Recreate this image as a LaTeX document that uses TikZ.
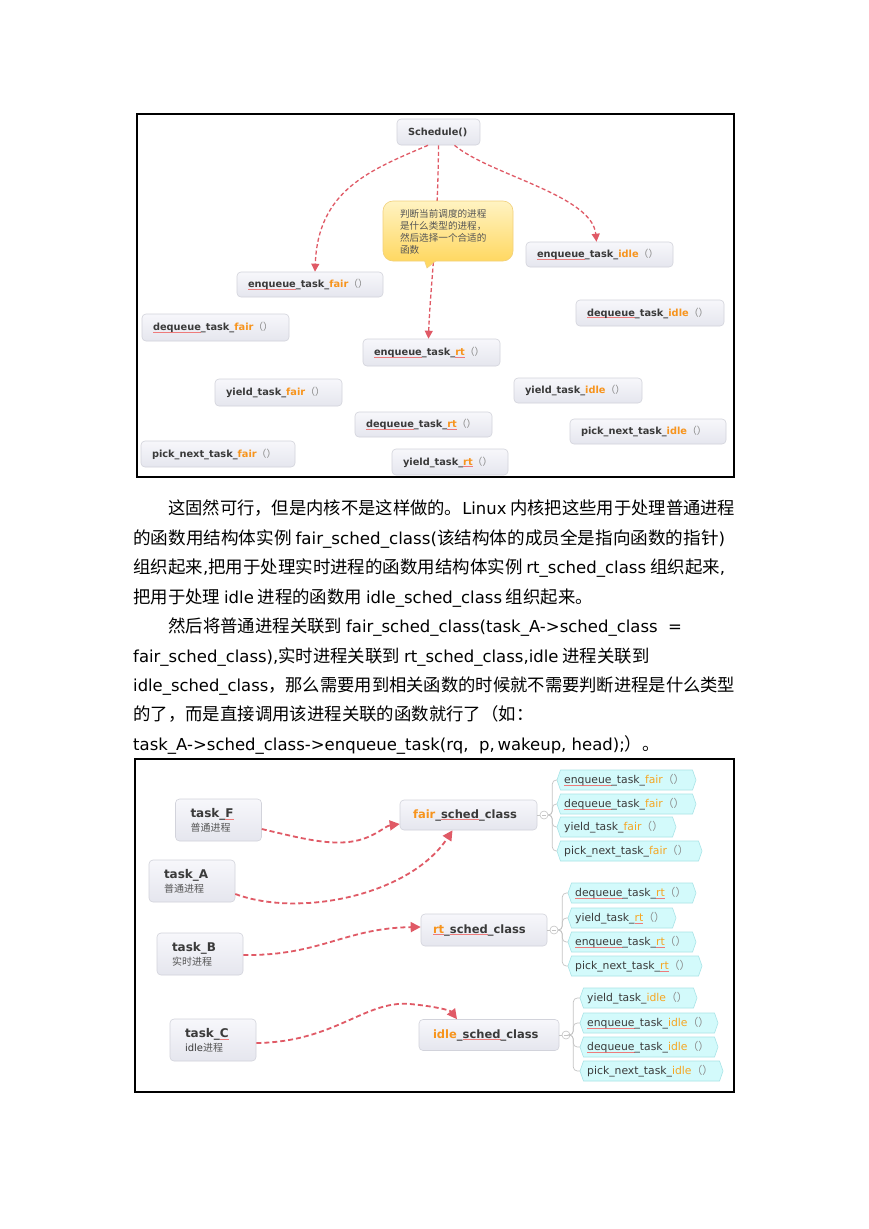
\documentclass[tikz,border=0pt]{standalone}
\usepackage{fontspec}
\usepackage{graphicx}
\usetikzlibrary{arrows.meta}
\newfontfamily\cjk{Noto Sans CJK SC}
\newfontfamily\dvs{DejaVu Sans}
\definecolor{txt}{HTML}{3A3A3A}
\definecolor{sub}{HTML}{555555}
\definecolor{org}{HTML}{F7941D}
\definecolor{orgl}{HTML}{F5A623}
\definecolor{paren}{HTML}{8A8A8A}
\definecolor{arr}{HTML}{E05A66}
\definecolor{boxtop}{HTML}{F7F7FB}
\definecolor{boxbot}{HTML}{E5E6EE}
\definecolor{boxline}{HTML}{D2D3DB}
\definecolor{bubtop}{HTML}{FFF3C2}
\definecolor{bubbot}{HTML}{FFD862}
\definecolor{bubline}{HTML}{F1D07A}
\definecolor{kidfill}{HTML}{D3FAFB}
\definecolor{kidline}{HTML}{A9E4E7}
\definecolor{branch}{HTML}{C4C4C4}
\definecolor{squig}{HTML}{EE7B7B}
\newcommand\hl[1]{\textcolor{org}{#1}}
\newcommand\hk[1]{\textcolor{orgl}{#1}}
\newcommand\pp{{\cjk\mdseries\textcolor{paren}{（）}}}
\newcommand\redul[1]{\setbox0\hbox{#1}\rlap{\textcolor{squig}{\rule[-2pt]{\wd0}{0.55pt}}}\box0}
\newcommand\lat[1]{{\dvs\fontsize{16.5}{20}\selectfont #1}}
\newcommand\kid[5]{%
  \filldraw[kidshape] (#2,#4) -- ({#2+3.5},{#4-10}) -- ({#3-3.5},{#4-10}) -- (#3,#4) -- ({#3-3.5},{#4+10}) -- ({#2+3.5},{#4+10}) -- cycle;
  \node[kidtxt] (#1) at (#2,#4) {#5};}
\begin{document}
\begin{tikzpicture}[x=1pt,y=-1pt,
  gbox/.style={draw=boxline, line width=0.6pt, rounded corners=4pt, top color=boxtop, bottom color=boxbot,
    inner xsep=11pt, inner ysep=0pt, align=left, text=txt, font=\dvs\bfseries\fontsize{9.8}{12}\selectfont},
  tbox/.style={gbox, inner xsep=15pt, text width=56pt, minimum height=42pt, font=\dvs\fontsize{10}{14}\selectfont},
  cbox/.style={gbox, font=\dvs\bfseries\fontsize{11.5}{13}\selectfont},
  kidshape/.style={fill=kidfill, draw=kidline, line width=0.6pt},
  kidtxt/.style={anchor=west, inner xsep=7pt, inner ysep=0pt, text=txt, font=\dvs\fontsize{10.8}{12}\selectfont},
  circ/.style={circle, draw=branch, fill=white, minimum size=8pt, inner sep=0pt, line width=0.6pt},
  branchl/.style={draw=branch, line width=0.7pt},
  arrT/.style={draw=arr, line width=1.3pt, dash pattern=on 4pt off 2.5pt, -{Triangle[length=8pt,width=8pt]}},
  arrB/.style={draw=arr, line width=1.8pt, dash pattern=on 5pt off 3pt, -{Triangle[length=10pt,width=10pt]}},
  ptext/.style={anchor=base west, inner sep=0pt, text=black, font=\cjk\fontsize{17.4}{20}\selectfont},
  frame/.style={draw=black, line width=1.3pt}
]
\useasboundingbox (0,0) rectangle (869,1229);
\fill[white] (0,0) rectangle (869,1229);

% ---------- top diagram ----------
\draw[frame] (137,114) rectangle (734,477);
\node[gbox, text width=61pt, minimum height=26pt] (sch) at (438.5,132) {Schedule()};
\node[gbox, text width=124pt, minimum height=25pt] (eqf) at (310,284.5) {\redul{enqueue}\_task\_\hl{fair}\pp};
\node[gbox, text width=125pt, minimum height=25pt] (eqi) at (599.5,254.5) {\redul{enqueue}\_task\_\hl{idle}\pp};
\node[gbox, text width=125pt, minimum height=27pt] (dqf) at (215.5,327.5) {\redul{dequeue}\_task\_\hl{fair}\pp};
\node[gbox, text width=115pt, minimum height=27pt] (eqr) at (431.5,352.5) {\redul{enqueue}\_task\_\redul{\hl{rt}}\pp};
\node[gbox, text width=126pt, minimum height=26pt] (dqi) at (650,313) {\redul{dequeue}\_task\_\hl{idle}\pp};
\node[gbox, text width=105pt, minimum height=27pt] (yf) at (278.5,392.5) {yield\_task\_\hl{fair}\pp};
\node[gbox, text width=106pt, minimum height=25pt] (yi) at (578,390.5) {yield\_task\_\hl{idle}\pp};
\node[gbox, text width=115pt, minimum height=25pt] (dqr) at (423.5,424.5) {\redul{dequeue}\_task\_\redul{\hl{rt}}\pp};
\node[gbox, text width=132pt, minimum height=26pt] (pf) at (218,454) {pick\_next\_task\_\hl{fair}\pp};
\node[gbox, text width=134pt, minimum height=25pt] (pi) at (648,431.5) {pick\_next\_task\_\hl{idle}\pp};
\node[gbox, text width=94pt, minimum height=26pt] (yr) at (450,462) {yield\_task\_\redul{\hl{rt}}\pp};

\draw[arrT] ([xshift=-10.5pt]sch.south) .. controls (370,170) and (318,190) .. ([xshift=5pt]eqf.north);
\draw[arrT] (sch.south) .. controls (438,230) and (430,290) .. ([xshift=-3pt]eqr.north);
\draw[arrT] ([xshift=16pt]sch.south) .. controls (490,175) and (592,195) .. ([xshift=-3pt]eqi.north);

% bubble
\path[draw=bubline, line width=0.6pt, top color=bubtop, bottom color=bubbot, rounded corners=10pt] (383,201) rectangle (513,261);
\fill[bubbot] (424.5,260) -- (436,260) -- (427,268) -- cycle;
\draw[bubline, line width=0.6pt] (424.5,260.7) -- (427,268) -- (436,260.7);
\node[align=left, text width=96pt, inner sep=0pt, text=sub, font=\cjk\fontsize{9.6}{12}\selectfont] (bub) at (448,232)
  {判断当前调度的进程\\是什么类型的进程，\\然后选择一个合适的\\函数};

% ---------- paragraph ----------
\node[ptext] (p1) at (168,514.5) {\resizebox{567pt}{\height}{这固然可行，但是内核不是这样做的。\lat{Linux} 内核把这些用于处理普通进程}};
\node[ptext] (p2) at (133,544.5) {\resizebox{592pt}{\height}{的函数用结构体实例 \lat{fair\_sched\_class(}该结构体的成员全是指向函数的指针\lat{)}}};
\node[ptext] (p3) at (133,573.5) {\resizebox{592pt}{\height}{组织起来\lat{,}把用于处理实时进程的函数用结构体实例 \lat{rt\_sched\_class} 组织起来\lat{,}}};
\node[ptext] (p4) at (133,603.5) {把用于处理 \lat{idle} 进程的函数用 \lat{idle\_sched\_class} 组织起来。};
\node[ptext] (p5) at (168,632.5) {然后将普通进程关联到 \lat{fair\_sched\_class(task\_A->sched\_class\ \ =}};
\node[ptext] (p6) at (133,662.5) {\lat{fair\_sched\_class),}实时进程关联到 \lat{rt\_sched\_class,idle} 进程关联到};
\node[ptext] (p7) at (133,691.5) {\resizebox{602pt}{\height}{\lat{idle\_sched\_class}，那么需要用到相关函数的时候就不需要判断进程是什么类型}};
\node[ptext] (p8) at (133,720.5) {的了，而是直接调用该进程关联的函数就行了（如：};
\node[ptext] (p9) at (133,750.5) {\lat{task\_A->sched\_class->enqueue\_task(rq,\ \ p,\,wakeup,\ head);}）。};

% ---------- bottom diagram ----------
\draw[frame] (135,759) rectangle (734,1092);
\node[tbox] (tF) at (218.5,820) {{\bfseries\fontsize{12}{14}\selectfont task\_\redul{F}}\\{\cjk\color{sub}\fontsize{10}{12}\selectfont 普通进程}};
\node[tbox] (tA) at (192,881) {{\bfseries\fontsize{12}{14}\selectfont task\_A}\\{\cjk\color{sub}\fontsize{10}{12}\selectfont 普通进程}};
\node[tbox] (tB) at (200,954) {{\bfseries\fontsize{12}{14}\selectfont task\_B}\\{\cjk\color{sub}\fontsize{10}{12}\selectfont 实时进程}};
\node[tbox] (tC) at (213,1040) {{\bfseries\fontsize{12}{14}\selectfont task\_\redul{C}}\\{\color{txt}\fontsize{10}{12}\selectfont idle{\cjk\color{sub}进程}}};

\node[cbox, inner xsep=13pt, text width=111pt, minimum height=30pt] (fsc) at (468.5,815) {\hl{fair}\_\redul{sched}\_class};
\node[cbox, inner xsep=12pt, text width=102pt, minimum height=32pt] (rsc) at (484,930) {\redul{\hl{rt}}\_\redul{sched}\_class};
\node[cbox, inner xsep=14pt, text width=112pt, minimum height=31pt] (isc) at (489,1035) {\hl{idle}\_\redul{sched}\_class};

\node[circ] (fcirc) at (544,815) {};
\node[circ] (rcirc) at (554,930) {};
\node[circ] (icirc) at (566,1035) {};
\foreach \c in {fcirc,rcirc,icirc}{\draw[branchl] ([xshift=-2pt]\c.center) -- ([xshift=2pt]\c.center);}
\draw[branchl] (fsc.east) -- (fcirc.west);
\draw[branchl] (rsc.east) -- (rcirc.west);
\draw[branchl] (isc.east) -- (icirc.west);

\kid{fe}{557}{696}{780}{\redul{enqueue}\_task\_\hk{fair}\pp}
\kid{fd}{557}{696}{804}{\redul{dequeue}\_task\_\hk{fair}\pp}
\kid{fy}{557}{676}{827}{yield\_task\_\hk{fair}\pp}
\kid{fp}{557}{702}{851}{pick\_next\_task\_\hk{fair}\pp}
\kid{rd}{568}{696}{893}{\redul{dequeue}\_task\_\redul{\hk{rt}}\pp}
\kid{ry}{568}{676}{918}{yield\_task\_\redul{\hk{rt}}\pp}
\kid{re}{568}{696}{942}{\redul{enqueue}\_task\_\redul{\hk{rt}}\pp}
\kid{rp}{568}{702}{966}{pick\_next\_task\_\redul{\hk{rt}}\pp}
\kid{iy}{580}{697}{998}{yield\_task\_\hk{idle}\pp}
\kid{ie}{580}{718}{1023}{\redul{enqueue}\_task\_\hk{idle}\pp}
\kid{id}{580}{718}{1047}{\redul{dequeue}\_task\_\hk{idle}\pp}
\kid{ip}{580}{723}{1071}{pick\_next\_task\_\hk{idle}\pp}

\foreach \k in {fe,fd,fy,fp}{\draw[branchl, rounded corners=4pt] (fcirc.east) -- ++(4,0) |- (\k.west);}
\foreach \k in {rd,ry,re,rp}{\draw[branchl, rounded corners=4pt] (rcirc.east) -- ++(4,0) |- (\k.west);}
\foreach \k in {iy,ie,id,ip}{\draw[branchl, rounded corners=4pt] (icirc.east) -- ++(3,0) |- (\k.west);}

\draw[arrB] ([yshift=-9pt]tF.east) .. controls (300,838) and (330,846) .. (355,841) .. controls (375,837) and (385,826) .. ([yshift=-9pt]fsc.west);
\draw[arrB] ([yshift=-13pt]tA.east) .. controls (300,918) and (410,895) .. ([xshift=-16pt]fsc.south);
\draw[arrB] ([yshift=-1pt]tB.east) .. controls (320,956) and (345,928) .. ([yshift=3pt]rsc.west);
\draw[arrB] ([yshift=-3pt]tC.east) .. controls (335,1042) and (365,1000) .. (410,1004) .. controls (432,1006) and (450,1010) .. ([xshift=-32pt]isc.north);
\end{tikzpicture}
\end{document}
